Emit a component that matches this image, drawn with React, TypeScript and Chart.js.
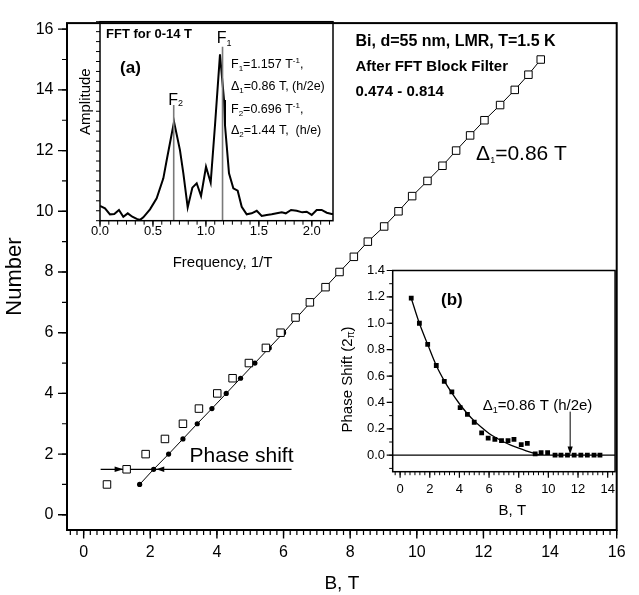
import React, { useEffect, useRef } from 'react';
import { Chart, registerables } from 'chart.js';
Chart.register(...registerables);

const FONT = 'Arial, "Liberation Sans", Helvetica, sans-serif';
Chart.defaults.font.family = FONT;
Chart.defaults.color = '#000';

// ---------------- Main chart data ----------------
const fringeNumbers = [1, 1.5, 2, 2.5, 3, 3.5, 4, 4.5, 5, 5.5, 6, 6.5, 7, 7.5, 8, 8.5, 9, 9.5, 10, 10.5, 11, 11.5, 12, 12.5, 13, 13.5, 14, 14.5, 15];
const bOriginal = [0.70, 1.29, 1.86, 2.44, 2.98, 3.46, 4.01, 4.47, 4.96, 5.47, 5.91, 6.36, 6.79, 7.26, 7.68, 8.11, 8.53, 9.02, 9.45, 9.86, 10.32, 10.77, 11.18, 11.60, 12.03, 12.50, 12.94, 13.35, 13.72];
const bShifted = [1.68, 2.10, 2.55, 2.98, 3.41, 3.85, 4.28, 4.71, 5.14, 5.57, 6.00, 6.40, 6.81, 7.26, 7.68, 8.11, 8.53, 9.02, 9.45, 9.86, 10.32, 10.77, 11.18, 11.60, 12.03, 12.50, 12.94, 13.35, 13.72];
const phaseLineB = [0.51, 6.24];
const phaseLineN = 1.5;
const mainXTicks = [0, 2, 4, 6, 8, 10, 12, 14, 16];
const mainYTicks = [0, 2, 4, 6, 8, 10, 12, 14, 16];

// ---------------- Inset (a) FFT ----------------
const fftFreq = [0.0, 0.047, 0.094, 0.135, 0.179, 0.220, 0.262, 0.305, 0.347, 0.378, 0.409, 0.472, 0.535, 0.598, 0.630, 0.699, 0.755, 0.787, 0.828, 0.872, 0.913, 0.954, 1.001, 1.045, 1.086, 1.133, 1.171, 1.180, 1.196, 1.218, 1.259, 1.300, 1.338, 1.385, 1.432, 1.480, 1.527, 1.574, 1.621, 1.669, 1.716, 1.754, 1.804, 1.857, 1.910, 1.952, 1.999, 2.046, 2.093, 2.141, 2.188, 2.2];
const fftAmp = [7.4, 6.2, 3.2, 3.4, 5.4, 2.0, 3.7, 2.0, 0.9, 0.4, 1.7, 5.7, 11.3, 21.3, 30.5, 49.7, 35.5, 23.8, 6.7, 16.6, 18.8, 12.4, 27.1, 19.1, 48.1, 83.6, 60.7, 48.1, 38.0, 23.8, 16.3, 15.1, 7.0, 3.2, 3.7, 5.0, 2.4, 2.9, 3.2, 3.7, 4.2, 3.7, 5.4, 5.0, 4.2, 4.5, 2.9, 5.4, 5.4, 4.0, 3.4, 3.4];
const peakF1 = 1.157;
const peakF2 = 0.696;
const peakF1Top = 87.4;
const peakF2Top = 58.1;
const insetAXTicks = [0, 0.5, 1.0, 1.5, 2.0];

// ---------------- Inset (b) Phase shift ----------------
const psB = [0.75, 1.30, 1.86, 2.44, 2.98, 3.49, 4.05, 4.54, 5.00, 5.50, 5.94, 6.39, 6.84, 7.28, 7.68, 8.17, 8.58, 9.11, 9.51, 9.95, 10.45, 10.85, 11.29, 11.74, 12.19, 12.63, 13.08, 13.48];
const psShift = [1.19, 1.00, 0.84, 0.68, 0.56, 0.48, 0.36, 0.31, 0.25, 0.17, 0.13, 0.12, 0.11, 0.11, 0.12, 0.08, 0.09, 0.01, 0.02, 0.02, 0, 0, 0, 0, 0, 0, 0, 0];
const fitB = [0.75, 1.30, 1.86, 2.44, 3.0, 3.5, 4.0, 4.5, 5.0, 5.5, 6.0, 6.5, 7.0, 7.5, 8.0, 8.5, 9.0, 9.4];
const fitShift = [1.19, 1.00, 0.84, 0.68, 0.56, 0.47, 0.39, 0.32, 0.26, 0.21, 0.165, 0.13, 0.10, 0.075, 0.053, 0.033, 0.015, 0.003];
const zeroLineB = [-0.5, 14.5];
const arrowB = 11.47;
const insetBXTicks = [0, 2, 4, 6, 8, 10, 12, 14];
const insetBYTicks = [0, 0.2, 0.4, 0.6, 0.8, 1.0, 1.2, 1.4];

// ---------------- helpers ----------------
type Seg = { t: string; s: number; dy?: number; b?: boolean };

function rich(ctx: CanvasRenderingContext2D, segs: Seg[], x: number, y: number, align: 'left' | 'center' = 'left', rot = 0) {
  ctx.save();
  ctx.translate(x, y);
  if (rot) ctx.rotate(rot);
  ctx.fillStyle = '#000';
  ctx.textAlign = 'left';
  ctx.textBaseline = 'alphabetic';
  let total = 0;
  const widths = segs.map((sg) => {
    ctx.font = `${sg.b ? 'bold ' : ''}${sg.s}px ${FONT}`;
    const w = ctx.measureText(sg.t).width;
    total += w;
    return w;
  });
  let cx = align === 'center' ? -total / 2 : 0;
  segs.forEach((sg, i) => {
    ctx.font = `${sg.b ? 'bold ' : ''}${sg.s}px ${FONT}`;
    ctx.fillText(sg.t, cx, sg.dy || 0);
    cx += widths[i];
  });
  ctx.restore();
}

function steps(a: number, b: number, step: number): number[] {
  const out: number[] = [];
  const n = Math.round((b - a) / step);
  for (let i = 0; i <= n; i++) out.push(a + i * step);
  return out;
}

function xTicks(ctx: CanvasRenderingContext2D, sc: any, ca: any, vals: number[], len: number, lw: number) {
  ctx.lineWidth = lw;
  ctx.beginPath();
  vals.forEach((v) => {
    const p = sc.getPixelForValue(v);
    if (p < ca.left - 0.5 || p > ca.right + 0.5) return;
    ctx.moveTo(p, ca.bottom);
    ctx.lineTo(p, ca.bottom + len);
  });
  ctx.stroke();
}

function yTicks(ctx: CanvasRenderingContext2D, sc: any, ca: any, vals: number[], len: number, lw: number) {
  ctx.lineWidth = lw;
  ctx.beginPath();
  vals.forEach((v) => {
    const p = sc.getPixelForValue(v);
    if (p < ca.top - 0.5 || p > ca.bottom + 0.5) return;
    ctx.moveTo(ca.left, p);
    ctx.lineTo(ca.left - len, p);
  });
  ctx.stroke();
}

function tri(ctx: CanvasRenderingContext2D, tip: [number, number], base: [number, number], half: number) {
  const dx = tip[0] - base[0];
  const dy = tip[1] - base[1];
  const L = Math.hypot(dx, dy) || 1;
  const nx = -dy / L, ny = dx / L;
  ctx.beginPath();
  ctx.moveTo(tip[0], tip[1]);
  ctx.lineTo(base[0] + nx * half, base[1] + ny * half);
  ctx.lineTo(base[0] - nx * half, base[1] - ny * half);
  ctx.closePath();
  ctx.fill();
}

const noPlugins = { legend: { display: false }, tooltip: { enabled: false } };

function setTicks(arr: number[]) {
  return (s: any) => {
    s.ticks = arr.map((v) => ({ value: v }));
  };
}

// ---------------- main chart ----------------
function mainConfig(): any {
  const deco = {
    id: 'mainDeco',
    afterDraw(chart: any) {
      const { ctx, chartArea: ca, scales } = chart;
      const x = scales.x, y = scales.y;
      ctx.save();
      ctx.strokeStyle = '#000';
      ctx.fillStyle = '#000';
      xTicks(ctx, x, ca, steps(-0.4, 16, 0.2), 5, 1.2);
      xTicks(ctx, x, ca, mainXTicks, 8.5, 1.4);
      yTicks(ctx, y, ca, steps(0, 16, 1), 5, 1.2);
      yTicks(ctx, y, ca, mainYTicks, 9, 1.4);
      ctx.lineWidth = 2;
      ctx.strokeRect(ca.left, ca.top, ca.right - ca.left, ca.bottom - ca.top);
      // arrows on phase-shift line
      const py = y.getPixelForValue(phaseLineN);
      tri(ctx, [x.getPixelForValue(1.19), py], [x.getPixelForValue(0.93), py], 2.8);
      tri(ctx, [x.getPixelForValue(2.18), py], [x.getPixelForValue(2.42), py], 2.8);
      // annotations
      rich(ctx, [{ t: 'Phase shift', s: 21 }], x.getPixelForValue(3.18), y.getPixelForValue(1.98) + 7.5);
      rich(ctx, [{ t: 'Δ', s: 21 }, { t: '1', s: 9, dy: 3 }, { t: '=0.86 T', s: 21 }], x.getPixelForValue(11.78), y.getPixelForValue(11.93) + 7.5);
      const lx = x.getPixelForValue(8.16);
      rich(ctx, [{ t: 'Bi, d=55 nm, LMR, T=1.5 K', s: 16, b: true }], lx, y.getPixelForValue(15.65) + 5.8);
      rich(ctx, [{ t: 'After FFT Block Filter', s: 15, b: true }], lx, y.getPixelForValue(14.79) + 5.4);
      rich(ctx, [{ t: '0.474 - 0.814', s: 15, b: true }], lx, y.getPixelForValue(13.98) + 5.4);
      ctx.restore();
    },
  };
  return {
    type: 'scatter',
    data: {
      datasets: [
        {
          label: 'Original',
          data: fringeNumbers.map((n, i) => ({ x: bOriginal[i], y: n })),
          pointStyle: 'rect',
          pointRadius: 5.3,
          pointBackgroundColor: '#fff',
          pointBorderColor: '#000',
          pointBorderWidth: 1,
          showLine: false,
        },
        {
          label: 'Shifted',
          data: fringeNumbers.map((n, i) => ({ x: bShifted[i], y: n })),
          pointStyle: 'circle',
          pointRadius: 2.6,
          pointBackgroundColor: '#000',
          pointBorderColor: '#000',
          pointBorderWidth: 0,
          showLine: true,
          borderColor: '#000',
          borderWidth: 1,
        },
        {
          label: 'Phase shift',
          data: phaseLineB.map((b) => ({ x: b, y: phaseLineN })),
          showLine: true,
          pointRadius: 0,
          borderColor: '#000',
          borderWidth: 1.3,
        },
      ],
    },
    options: {
      responsive: false,
      animation: false,
      devicePixelRatio: 1,
      layout: { padding: { left: 0, right: 10, top: 15, bottom: 0 } },
      plugins: noPlugins,
      scales: {
        x: {
          type: 'linear',
          position: 'bottom',
          min: -0.5,
          max: 16,
          grid: { display: false, drawTicks: false },
          border: { display: false },
          afterBuildTicks: setTicks(mainXTicks),
          afterFit: (s: any) => { s.height = 65; },
          ticks: { padding: 13.4, font: { size: 16 }, color: '#000', maxRotation: 0, autoSkip: false, callback: (v: any) => String(v) },
          title: { display: true, text: 'B, T', font: { size: 19 }, color: '#000', padding: { top: 0, bottom: 0 } },
        },
        y: {
          type: 'linear',
          min: -0.5,
          max: 16.2,
          grid: { display: false, drawTicks: false },
          border: { display: false },
          afterBuildTicks: setTicks(mainYTicks),
          afterFit: (s: any) => { s.width = 67; },
          ticks: { padding: 13.5, font: { size: 16 }, color: '#000', autoSkip: false, callback: (v: any) => String(v) },
          title: { display: true, text: 'Number', font: { size: 22 }, color: '#000', padding: { top: 2, bottom: 0 } },
        },
      },
    },
    plugins: [deco],
  };
}

// ---------------- inset (a) ----------------
function insetAConfig(): any {
  const deco = {
    id: 'aDeco',
    afterDraw(chart: any) {
      const { ctx, chartArea: ca, scales } = chart;
      const x = scales.x, y = scales.y;
      ctx.save();
      ctx.strokeStyle = '#000';
      ctx.fillStyle = '#000';
      xTicks(ctx, x, ca, steps(0, 2.2, 0.5 / 6), 4, 1);
      xTicks(ctx, x, ca, insetAXTicks, 6, 1.2);
      yTicks(ctx, y, ca, steps(0, 100, 5), 4, 1);
      ctx.lineWidth = 1.5;
      ctx.strokeRect(ca.left, ca.top, ca.right - ca.left, ca.bottom - ca.top);
      rich(ctx, [{ t: 'FFT for 0-14 T', s: 13, b: true }], x.getPixelForValue(0.057), y.getPixelForValue(94.2) + 4.7);
      rich(ctx, [{ t: '(a)', s: 17, b: true }], x.getPixelForValue(0.189), y.getPixelForValue(77.4) + 6.1);
      rich(ctx, [{ t: 'F', s: 16 }, { t: '1', s: 9, dy: 3 }], x.getPixelForValue(1.102), y.getPixelForValue(92.1) + 5.8);
      rich(ctx, [{ t: 'F', s: 16 }, { t: '2', s: 9, dy: 1 }], x.getPixelForValue(0.645), y.getPixelForValue(60.9) + 5.8);
      const lx = x.getPixelForValue(1.237);
      const off = 4.5;
      rich(ctx, [{ t: 'F', s: 12.5 }, { t: '1', s: 8, dy: 3 }, { t: '=1.157 T', s: 12.5 }, { t: '-1', s: 8, dy: -5 }, { t: ',', s: 12.5 }], lx, y.getPixelForValue(79.1) + off);
      rich(ctx, [{ t: 'Δ', s: 12.5 }, { t: '1', s: 8, dy: 3 }, { t: '=0.86 T, (h/2e)', s: 12.5 }], lx, y.getPixelForValue(67.7) + off);
      rich(ctx, [{ t: 'F', s: 12.5 }, { t: '2', s: 8, dy: 3 }, { t: '=0.696 T', s: 12.5 }, { t: '-1', s: 8, dy: -5 }, { t: ',', s: 12.5 }], lx, y.getPixelForValue(56.5) + off);
      rich(ctx, [{ t: 'Δ', s: 12.5 }, { t: '2', s: 8, dy: 3 }, { t: '=1.44 T,  (h/e)', s: 12.5 }], lx, y.getPixelForValue(45.6) + off);
      // axis titles
      rich(ctx, [{ t: 'Amplitude', s: 15 }], ca.left - 15 + 5.4, y.getPixelForValue(59.8), 'center', -Math.PI / 2);
      rich(ctx, [{ t: 'Frequency, 1/T', s: 15 }], x.getPixelForValue(1.157), ca.bottom + 41 + 5.4, 'center');
      ctx.restore();
    },
  };
  return {
    type: 'scatter',
    data: {
      datasets: [
        {
          label: 'F1',
          data: [{ x: peakF1, y: 0 }, { x: peakF1, y: peakF1Top }],
          showLine: true, pointRadius: 0, borderColor: '#7a7a7a', borderWidth: 1.6,
        },
        {
          label: 'F2',
          data: [{ x: peakF2, y: 0 }, { x: peakF2, y: peakF2Top }],
          showLine: true, pointRadius: 0, borderColor: '#7a7a7a', borderWidth: 1.6,
        },
        {
          label: 'FFT',
          data: fftFreq.map((f, i) => ({ x: f, y: fftAmp[i] })),
          showLine: true, pointRadius: 0, borderColor: '#000', borderWidth: 2,
        },
      ],
    },
    options: {
      responsive: false,
      animation: false,
      devicePixelRatio: 1,
      layout: { padding: { left: 0, right: 12, top: 11.7, bottom: 0 } },
      plugins: noPlugins,
      scales: {
        x: {
          type: 'linear', min: 0, max: 2.2,
          grid: { display: false, drawTicks: false },
          border: { display: false },
          afterBuildTicks: setTicks(insetAXTicks),
          afterFit: (s: any) => { s.height = 54.3; },
          ticks: { padding: 2.5, font: { size: 13 }, color: '#000', maxRotation: 0, autoSkip: false, callback: (v: any) => Number(v).toFixed(1) },
          title: { display: false },
        },
        y: {
          type: 'linear', min: 0, max: 100,
          grid: { display: false, drawTicks: false },
          border: { display: false },
          afterFit: (s: any) => { s.width = 30; },
          ticks: { display: false },
          title: { display: false },
        },
      },
    },
    plugins: [deco],
  };
}

// ---------------- inset (b) ----------------
function insetBConfig(): any {
  const deco = {
    id: 'bDeco',
    afterDraw(chart: any) {
      const { ctx, chartArea: ca, scales } = chart;
      const x = scales.x, y = scales.y;
      ctx.save();
      ctx.strokeStyle = '#000';
      ctx.fillStyle = '#000';
      xTicks(ctx, x, ca, steps(-1 / 3, 14 + 1 / 3, 1 / 3), 3.5, 1);
      xTicks(ctx, x, ca, insetBXTicks, 6, 1.2);
      yTicks(ctx, y, ca, steps(-0.1, 1.4, 0.1), 3.5, 1);
      yTicks(ctx, y, ca, insetBYTicks, 6, 1.2);
      ctx.lineWidth = 1.5;
      ctx.strokeRect(ca.left, ca.top, ca.right - ca.left, ca.bottom - ca.top);
      // arrow
      const ax = x.getPixelForValue(arrowB);
      ctx.lineWidth = 1;
      ctx.beginPath();
      ctx.moveTo(ax, y.getPixelForValue(0.33));
      ctx.lineTo(ax, y.getPixelForValue(0.06));
      ctx.stroke();
      tri(ctx, [ax, y.getPixelForValue(0.008)], [ax, y.getPixelForValue(0.066)], 2.6);
      rich(ctx, [{ t: '(b)', s: 17, b: true }], x.getPixelForValue(3.49), y.getPixelForValue(1.187) + 6.1, 'center');
      rich(ctx, [{ t: 'Δ', s: 15 }, { t: '1', s: 9, dy: 3 }, { t: '=0.86 T (h/2e)', s: 15 }], x.getPixelForValue(5.57), y.getPixelForValue(0.382) + 5.4);
      // axis titles
      rich(ctx, [{ t: 'Phase Shift (2', s: 15 }, { t: 'π', s: 10, dy: 2 }, { t: ')', s: 15 }], ca.left - 46 + 5.4, y.getPixelForValue(0.574), 'center', -Math.PI / 2);
      rich(ctx, [{ t: 'B, T', s: 15 }], x.getPixelForValue(7.57), ca.bottom + 38.3 + 5.4, 'center');
      ctx.restore();
    },
  };
  return {
    type: 'scatter',
    data: {
      datasets: [
        {
          label: 'Phase shift',
          data: psB.map((b, i) => ({ x: b, y: psShift[i] })),
          pointStyle: 'rect', pointRadius: 3.4, pointBackgroundColor: '#000', pointBorderColor: '#000', pointBorderWidth: 0, showLine: false,
        },
        {
          label: 'Fit',
          data: fitB.map((b, i) => ({ x: b, y: fitShift[i] })),
          showLine: true, pointRadius: 0, borderColor: '#000', borderWidth: 1.3, cubicInterpolationMode: 'monotone',
        },
        {
          label: 'Zero',
          data: zeroLineB.map((b) => ({ x: b, y: 0 })),
          showLine: true, pointRadius: 0, borderColor: '#000', borderWidth: 1.2,
        },
      ],
    },
    options: {
      responsive: false,
      animation: false,
      devicePixelRatio: 1,
      layout: { padding: { left: 0, right: 9, top: 9.5, bottom: 0 } },
      plugins: noPlugins,
      scales: {
        x: {
          type: 'linear', min: -0.5, max: 14.5,
          grid: { display: false, drawTicks: false },
          border: { display: false },
          afterBuildTicks: setTicks(insetBXTicks),
          afterFit: (s: any) => { s.height = 48.3; },
          ticks: { padding: 9.8, font: { size: 13 }, color: '#000', maxRotation: 0, autoSkip: false, callback: (v: any) => String(v) },
          title: { display: false },
        },
        y: {
          type: 'linear', min: -0.125, max: 1.4,
          grid: { display: false, drawTicks: false },
          border: { display: false },
          afterBuildTicks: setTicks(insetBYTicks),
          afterFit: (s: any) => { s.width = 57.7; },
          ticks: { padding: 7.7, font: { size: 13 }, color: '#000', autoSkip: false, callback: (v: any) => Number(v).toFixed(1) },
          title: { display: false },
        },
      },
    },
    plugins: [deco],
  };
}

export default function App() {
  const mainRef = useRef<HTMLCanvasElement>(null);
  const aRef = useRef<HTMLCanvasElement>(null);
  const bRef = useRef<HTMLCanvasElement>(null);
  useEffect(() => {
    const charts = [
      new Chart(mainRef.current as HTMLCanvasElement, mainConfig()),
      new Chart(aRef.current as HTMLCanvasElement, insetAConfig()),
      new Chart(bRef.current as HTMLCanvasElement, insetBConfig()),
    ];
    return () => charts.forEach((c) => c.destroy());
  }, []);
  return (
    <div style={{ position: 'absolute', left: 0, top: 0, width: 639, height: 595, background: '#fff', overflow: 'hidden' }}>
      <canvas ref={mainRef} width={639} height={595} style={{ position: 'absolute', left: 0, top: 0 }} />
      <canvas ref={aRef} width={275} height={265} style={{ position: 'absolute', left: 70, top: 10 }} />
      <canvas ref={bRef} width={290} height={265} style={{ position: 'absolute', left: 335, top: 255 }} />
    </div>
  );
}
